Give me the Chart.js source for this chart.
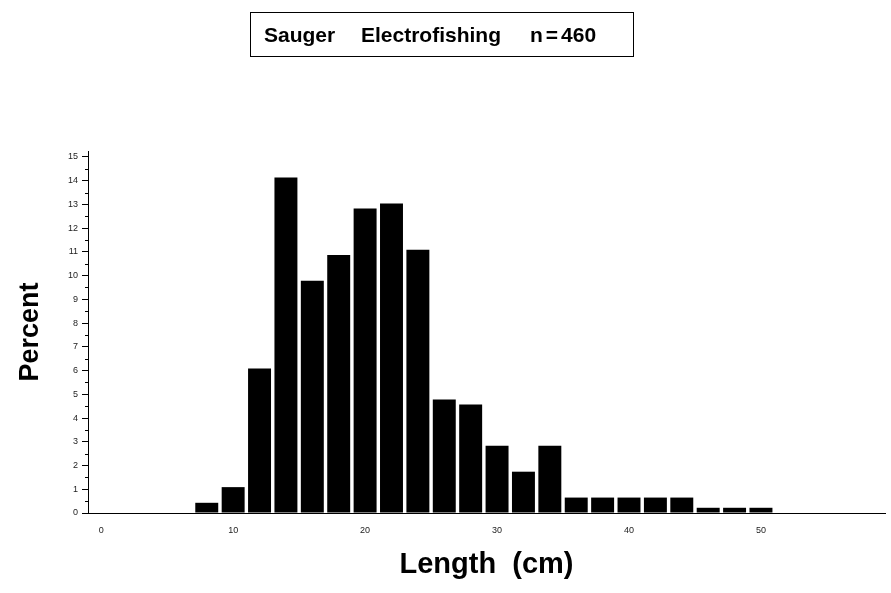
<!DOCTYPE html>
<html lang="en">
<head>
    <meta charset="UTF-8">
    <title>Sauger Electrofishing n=460</title>
    <script src="https://cdn.jsdelivr.net/npm/chart.js"></script>
    <style>
        body {
            margin: 0;
            background: #fff;
            font-family: "Liberation Sans", Arial, sans-serif;
        }
        #wrap {
            position: relative;
            width: 891px;
            height: 593px;
        }
        #titleBox {
            position: absolute;
            left: 250px;
            top: 12px;
            width: 382px;
            height: 43px;
            border: 1px solid #000;
        }
        #titleBox > span {
            position: absolute;
            top: 0;
            font-weight: bold;
            font-size: 21px;
            line-height: 43px;
            white-space: pre;
        }
        .wide {
            letter-spacing: 3px;
        }
    </style>
</head>
<body>
    <div id="wrap">
        <canvas id="myChart"></canvas>
        <div id="titleBox">
            <span style="left: 13px;">Sauger</span>
            <span style="left: 110px;">Electrofishing</span>
            <span style="left: 279px;"><span class="wide">n=</span>460</span>
        </div>
    </div>

    <script>
        // bin midpoints (cm) and percent of fish in each bin
        const lengthBins = [8, 10, 12, 14, 16, 18, 20, 22, 24, 26, 28, 30, 32, 34, 36, 38, 40, 42, 44, 46, 48, 50];
        const percentValues = [0.43, 1.09, 6.09, 14.13, 9.78, 10.87, 12.83, 13.04, 11.09, 4.78, 4.57, 2.83, 1.74, 2.83,
                               0.65, 0.65, 0.65, 0.65, 0.65, 0.22, 0.22, 0.22];
        const xTickLabels = [0, 10, 20, 30, 40, 50];
        const yTickLabels = [0, 1, 2, 3, 4, 5, 6, 7, 8, 9, 10, 11, 12, 13, 14, 15];

        const minorTicks = {
            id: 'minorTicks',
            afterDraw(chart) {
                const y = chart.scales.y;
                const c = chart.ctx;
                c.save();
                c.strokeStyle = '#000';
                c.lineWidth = 1;
                for (let i = 0; i < yTickLabels.length - 1; i++) {
                    const py = Math.round(y.getPixelForValue(yTickLabels[i] + 0.5)) + 0.5;
                    c.beginPath();
                    c.moveTo(y.right - 3, py);
                    c.lineTo(y.right, py);
                    c.stroke();
                }
                c.restore();
            }
        };

        const ctx = document.getElementById('myChart').getContext('2d');
        const myChart = new Chart(ctx, {
            type: 'bar',
            data: {
                datasets: [{
                    label: 'Percent',
                    data: lengthBins.map((x, i) => ({ x: x, y: percentValues[i] })),
                    backgroundColor: '#000',
                    borderWidth: 0,
                    barPercentage: 0.87,
                    categoryPercentage: 1
                }]
            },
            options: {
                responsive: true,
                maintainAspectRatio: false,
                animation: false,
                layout: { padding: { top: 151, right: 6, left: 0, bottom: 0 } },
                plugins: {
                    legend: { display: false },
                    tooltip: { enabled: false }
                },
                scales: {
                    x: {
                        type: 'linear',
                        offset: false,
                        min: -1.0,
                        max: 59.4,
                        afterBuildTicks: axis => { axis.ticks = xTickLabels.map(v => ({ value: v })); },
                        afterFit: scale => { scale.height = 80; },
                        grid: { display: false },
                        border: { display: true, color: '#000', width: 1 },
                        ticks: {
                            color: '#222',
                            font: { family: 'Liberation Sans', size: 9 },
                            padding: 4,
                            maxRotation: 0
                        },
                        title: {
                            display: true,
                            text: 'Length  (cm)',
                            color: '#000',
                            font: { family: 'Liberation Sans', size: 29, weight: 'bold' },
                            padding: { top: 0, bottom: 11 }
                        }
                    },
                    y: {
                        min: 0,
                        max: 15.25,
                        afterBuildTicks: axis => { axis.ticks = yTickLabels.map(v => ({ value: v })); },
                        afterFit: scale => { scale.width = 88; },
                        grid: { drawOnChartArea: false, tickLength: 6, color: '#000' },
                        border: { display: true, color: '#000', width: 1 },
                        ticks: {
                            color: '#222',
                            font: { family: 'Liberation Sans', size: 9 },
                            padding: 4
                        },
                        title: {
                            display: true,
                            text: 'Percent',
                            color: '#000',
                            font: { family: 'Liberation Sans', size: 27, weight: 'bold' },
                            padding: { top: 14, bottom: 0 }
                        }
                    }
                }
            },
            plugins: [minorTicks]
        });
    </script>
</body>
</html>
